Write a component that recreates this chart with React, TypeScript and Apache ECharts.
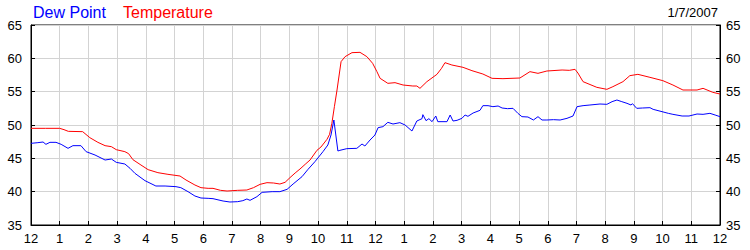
import React, { useEffect, useRef } from "react";
import * as echarts from "echarts";

const xTickLabels = ["12","1","2","3","4","5","6","7","8","9","10","11","12","1","2","3","4","5","6","7","8","9","10","11","12"];
const yTicks = [35, 40, 45, 50, 55, 60, 65];
const dateLabel = "1/7/2007";
const legendNames = ["Dew Point", "Temperature"];

const tempHours = [0,0.5,1.0,1.15,1.3,1.8,2.05,2.33,2.58,2.8,2.97,3.27,3.4,3.55,3.83,4.08,4.42,4.77,5.19,5.4,5.71,5.92,6.17,6.34,6.6,6.83,7.2,7.52,7.75,7.98,8.22,8.45,8.67,8.85,9.02,9.2,9.37,9.55,9.72,9.96,10.1,10.31,10.4,10.48,10.57,10.66,10.8,10.94,11.18,11.46,11.7,11.9,12.05,12.16,12.43,12.68,12.96,13.3,13.44,13.55,13.79,14.14,14.3,14.42,14.66,15.05,15.36,15.74,16.06,16.44,17.03,17.38,17.66,17.97,18.5,18.75,18.95,19.05,19.23,19.71,20.06,20.27,20.62,20.86,21.14,21.56,22.01,22.36,22.71,23.2,23.41,23.75,24];
const tempValues = [49.5,49.5,49.5,49.3,49.05,49.0,48.1,47.4,46.9,46.75,46.3,46.0,45.7,44.8,44.0,43.3,42.85,42.6,42.35,41.75,41.0,40.6,40.5,40.5,40.2,40.1,40.2,40.25,40.6,41.1,41.35,41.3,41.15,41.4,42.1,42.8,43.4,44.1,44.75,46.2,46.7,47.85,48.6,50.25,52.8,55.25,59.5,60.25,60.85,60.9,60.25,59.25,58.0,57.0,56.25,56.35,56.0,55.85,55.85,55.5,56.5,57.6,58.5,59.35,59.0,58.65,58.15,57.65,57.0,56.95,57.05,58.0,57.75,58.1,58.25,58.2,58.35,57.8,56.5,55.65,55.35,55.75,56.5,57.4,57.6,57.15,56.65,56.0,55.25,55.25,55.5,54.9,54.65];

const dewHours = [0,0.24,0.42,0.52,0.66,0.87,1.05,1.29,1.46,1.74,1.92,2.23,2.58,2.8,2.97,3.27,3.45,3.62,3.97,4.35,4.67,5.05,5.22,5.47,5.71,5.92,6.17,6.34,6.69,6.93,7.2,7.38,7.52,7.63,7.87,8.05,8.4,8.67,8.92,9.13,9.44,9.65,9.89,10.17,10.34,10.45,10.55,10.69,10.76,11.0,11.35,11.53,11.63,11.81,11.98,12.09,12.26,12.43,12.61,12.85,13.03,13.27,13.44,13.62,13.65,13.76,13.86,13.97,14.1,14.17,14.49,14.6,14.7,14.84,15.01,15.12,15.22,15.4,15.64,15.74,15.92,16.09,16.27,16.41,16.6,16.79,16.96,17.1,17.31,17.5,17.66,17.8,17.97,18.2,18.43,18.67,18.88,19.02,19.23,19.47,19.82,20.06,20.24,20.41,20.58,20.76,20.9,20.95,21.1,21.3,21.56,21.67,21.98,22.2,22.36,22.68,22.92,23.2,23.41,23.65,23.83,24];
const dewValues = [47.25,47.35,47.45,47.1,47.4,47.4,47.1,46.5,46.9,46.9,46.0,45.5,44.75,44.9,44.4,44.15,43.5,42.75,41.65,40.85,40.85,40.75,40.6,40.0,39.35,39.05,39.0,38.95,38.6,38.45,38.5,38.65,38.9,38.7,39.25,39.9,40.0,40.0,40.35,41.15,42.25,43.35,44.5,46.0,47.0,48.5,50.75,46.1,46.2,46.45,46.5,47.15,46.85,47.75,48.5,49.6,49.75,50.4,50.15,50.35,50.0,49.1,50.6,50.95,51.55,50.65,50.95,50.5,51.35,50.5,50.5,51.5,50.6,50.7,51.0,51.5,51.3,51.8,52.2,52.9,52.9,52.75,52.85,52.55,52.45,52.5,51.75,51.25,51.2,50.75,51.25,50.75,50.75,50.8,50.75,51.0,51.35,52.75,52.9,53.0,53.15,53.1,53.5,53.75,53.5,53.25,53.0,53.2,52.5,52.55,52.6,52.35,52.0,51.75,51.6,51.35,51.35,51.65,51.6,51.75,51.5,51.25];

const FONT = "'Liberation Sans', Arial, sans-serif";

export default function App() {
  const ref = useRef<HTMLDivElement>(null);
  useEffect(() => {
    if (!ref.current) return;
    const chart = echarts.init(ref.current, null, { renderer: "svg" });
    const zip = (h: number[], v: number[]) => h.map((x, i) => [x, v[i]]);
    const yAxisBase = {
      type: "value" as const,
      min: yTicks[0],
      max: yTicks[yTicks.length - 1],
      interval: 5,
      axisLine: { show: true, lineStyle: { color: "#000", width: 1 } },
      axisTick: { show: true, inside: true, length: 4, lineStyle: { color: "#000" } },
    };
    chart.setOption({
      animation: false,
      backgroundColor: "#fff",
      grid: { left: 31, right: 30, top: 25, bottom: 25, show: true, borderColor: "#000", borderWidth: 1, backgroundColor: "transparent" },
      graphic: [
        { type: "text", left: 33, top: 4, style: { text: legendNames[0], fill: "#0000ff", font: `16px ${FONT}` } },
        { type: "text", left: 123, top: 4, style: { text: legendNames[1], fill: "#ff0000", font: `16px ${FONT}` } },
        { type: "text", right: 32, top: 6, style: { text: dateLabel, fill: "#000", font: `13px ${FONT}` } },
      ],
      xAxis: {
        type: "value",
        min: 0,
        max: 24,
        interval: 1,
        axisLine: { show: true, onZero: false, lineStyle: { color: "#000", width: 1 } },
        axisTick: { show: true, inside: true, length: 4, lineStyle: { color: "#000" } },
        axisLabel: {
          color: "#000",
          fontFamily: FONT,
          fontSize: 13,
          margin: 7,
          showMinLabel: true,
          showMaxLabel: true,
          formatter: (v: number) => xTickLabels[Math.round(v)] ?? "",
        },
        splitLine: { show: true, lineStyle: { color: "#d3d3d3", width: 1 } },
      },
      yAxis: [
        {
          ...yAxisBase,
          position: "left",
          axisLabel: { color: "#000", fontFamily: FONT, fontSize: 13, margin: 9 },
          splitLine: { show: true, lineStyle: { color: "#d3d3d3", width: 1 } },
        },
        {
          ...yAxisBase,
          position: "right",
          axisLabel: { color: "#000", fontFamily: FONT, fontSize: 13, margin: 6 },
          splitLine: { show: false },
        },
      ],
      series: [
        {
          name: legendNames[1],
          type: "line",
          data: zip(tempHours, tempValues),
          showSymbol: false,
          symbol: "none",
          lineStyle: { color: "#ff0000", width: 1 },
          itemStyle: { color: "#ff0000" },
          z: 3,
        },
        {
          name: legendNames[0],
          type: "line",
          data: zip(dewHours, dewValues),
          showSymbol: false,
          symbol: "none",
          lineStyle: { color: "#0000ff", width: 1 },
          itemStyle: { color: "#0000ff" },
          z: 4,
        },
      ],
    });
    return () => chart.dispose();
  }, []);
  return <div ref={ref} style={{ position: "fixed", left: 0, top: 0, width: 750, height: 250, background: "#fff" }} />;
}
